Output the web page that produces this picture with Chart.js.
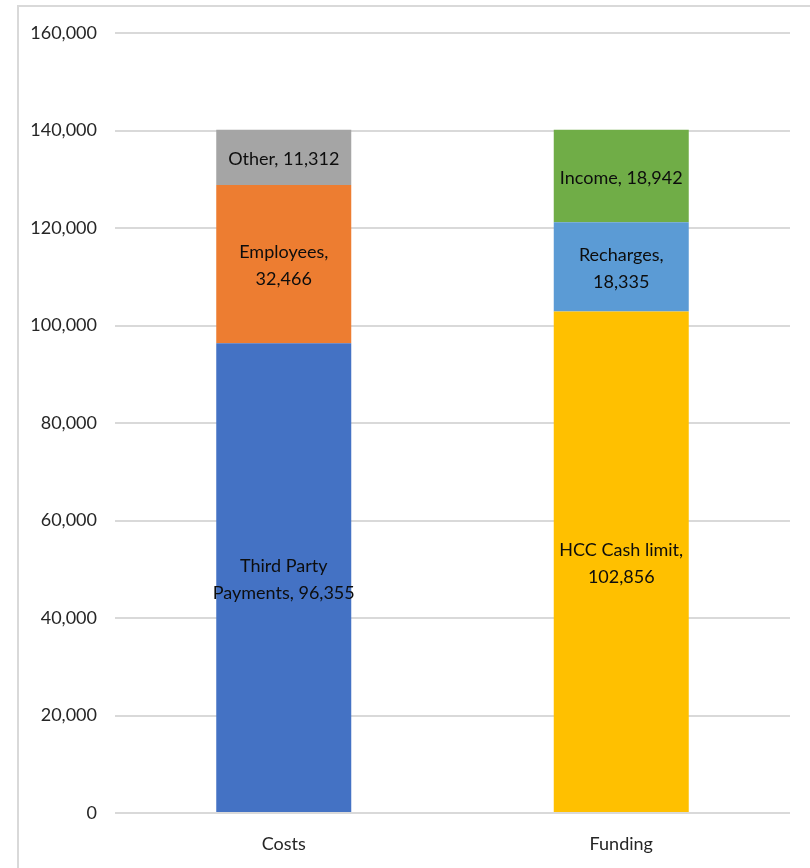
<!DOCTYPE html>
<html>
<head>
<meta charset="utf-8">
<script src="https://cdn.jsdelivr.net/npm/chart.js@4.4.1/dist/chart.umd.min.js"></script>
<style>
  html, body { margin: 0; padding: 0; background: #fff; }
  #wrap { position: relative; width: 810px; height: 868px; }
  #frame { position: absolute; left: 17px; top: 5px; width: 820px; height: 880px;
           border: 2px solid #d9d9d9; box-sizing: border-box; }
  canvas { position: absolute; left: 0; top: 0; }
</style>
</head>
<body>
<div id="wrap">
  <div id="frame"></div>
  <canvas id="c" width="810" height="868"></canvas>
</div>
<script>
// ---- data ----
const categories = ['Costs', 'Funding'];
const bottomValues = [96355, 102856];
const middleValues = [32466, 18335];
const topValues = [11312, 18942];
const bottomPrefixes = ['Third Party\nPayments, ', 'HCC Cash limit,\n'];
const middlePrefixes = ['Employees,\n', 'Recharges,\n'];
const topPrefixes = ['Other, ', 'Income, '];
const yTicks = [0, 20000, 40000, 60000, 80000, 100000, 120000, 140000, 160000];
// ---- colours ----
const bottomColors = ['#4472C4', '#FFC000'];
const middleColors = ['#ED7D31', '#5B9BD5'];
const topColors = ['#A5A5A5', '#70AD47'];

const FONT = 'Lato, "Open Sans", sans-serif';
const fmt = v => v.toLocaleString('en-US');

const segLabelPlugin = {
  id: 'segLabels',
  afterDatasetsDraw(chart) {
    const ctx = chart.ctx;
    ctx.save();
    ctx.font = '18px ' + FONT;
    ctx.fillStyle = '#0d0d0d';
    ctx.textAlign = 'center';
    ctx.textBaseline = 'middle';
    chart.data.datasets.forEach((ds, di) => {
      const meta = chart.getDatasetMeta(di);
      meta.data.forEach((bar, i) => {
        const text = ds.prefixes[i] + fmt(ds.data[i]);
        const lines = text.split('\n');
        const lh = 27;
        const cy = (bar.y + bar.base) / 2 + 2;
        const y0 = cy - (lines.length - 1) * lh / 2;
        lines.forEach((ln, k) => ctx.fillText(ln, bar.x, y0 + k * lh));
      });
    });
    ctx.restore();
  }
};

new Chart(document.getElementById('c'), {
  type: 'bar',
  data: {
    labels: categories,
    datasets: [
      { label: 'bottom', data: bottomValues, backgroundColor: bottomColors, prefixes: bottomPrefixes },
      { label: 'middle', data: middleValues, backgroundColor: middleColors, prefixes: middlePrefixes },
      { label: 'top', data: topValues, backgroundColor: topColors, prefixes: topPrefixes }
    ]
  },
  options: {
    responsive: false,
    animation: false,
    devicePixelRatio: 1,
    layout: { padding: { top: 33, right: 20, bottom: 15, left: 0 } },
    plugins: { legend: { display: false }, tooltip: { enabled: false } },
    datasets: { bar: { categoryPercentage: 1, barPercentage: 0.4, borderWidth: 0 } },
    scales: {
      x: {
        stacked: true,
        grid: { display: false, drawTicks: false },
        border: { display: false },
        ticks: { color: '#262626', font: { family: FONT, size: 18 }, padding: 20 },
        afterFit(s) { s.height = 40; }
      },
      y: {
        stacked: true,
        min: 0, max: 160000,
        afterBuildTicks(s) { s.ticks = yTicks.map(v => ({ value: v })); },
        grid: { color: '#d9d9d9', lineWidth: 2, drawTicks: false },
        border: { display: false },
        ticks: { color: '#262626', font: { family: FONT, size: 18 }, padding: 18,
                 callback: v => fmt(v) },
        afterFit(s) { s.width = 115; }
      }
    }
  },
  plugins: [segLabelPlugin]
});
</script>
</body>
</html>
